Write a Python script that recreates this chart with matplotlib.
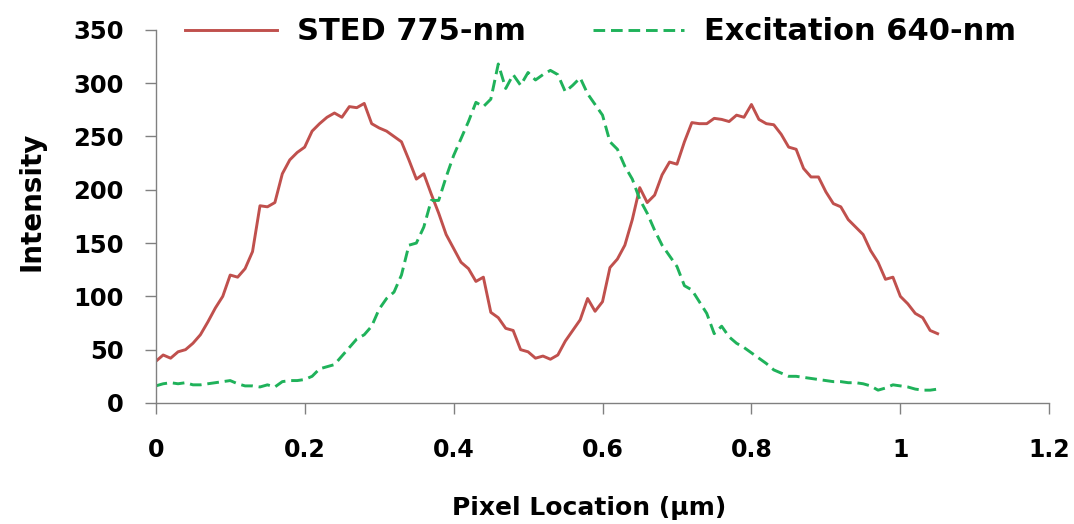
import numpy as np
import matplotlib
matplotlib.use("Agg")
from matplotlib import pyplot as plt

x_um = np.round(np.arange(0, 1.051, 0.01), 2)

sted_775 = [39, 45, 42, 48, 50, 56, 64, 76, 89, 100,
            120, 118, 126, 142, 185, 184, 188, 215, 228, 235,
            240, 255, 262, 268, 272, 268, 278, 277, 281, 262,
            258, 255, 250, 245, 228, 210, 215, 196, 178, 158,
            145, 132, 126, 114, 118, 85, 80, 70, 68, 50,
            48, 42, 44, 41, 45, 58, 68, 78, 98, 86,
            95, 127, 135, 148, 172, 202, 188, 195, 214, 226,
            224, 245, 263, 262, 262, 267, 266, 264, 270, 268,
            280, 266, 262, 261, 252, 240, 238, 220, 212, 212,
            198, 187, 184, 172, 165, 158, 143, 132, 116, 118,
            100, 93, 84, 80, 68, 65]

exc_640 = [16, 18, 19, 18, 19, 17, 17, 18, 19, 20,
           21, 18, 16, 16, 15, 17, 15, 20, 21, 21,
           22, 25, 32, 34, 36, 44, 52, 60, 64, 72,
           88, 98, 104, 120, 148, 150, 165, 190, 190, 212,
           232, 248, 264, 282, 278, 285, 318, 295, 308, 298,
           310, 303, 308, 312, 308, 292, 298, 305, 290, 280,
           270, 245, 238, 222, 210, 191, 178, 162, 148, 138,
           128, 110, 106, 95, 84, 65, 72, 62, 56, 52,
           47, 42, 37, 31, 28, 25, 25, 24, 23, 22,
           21, 20, 20, 19, 19, 18, 16, 12, 14, 17,
           16, 15, 13, 12, 12, 13]

labels = ["STED 775-nm", "Excitation 640-nm"]

plt.rcParams["font.family"] = "DejaVu Sans"
plt.rcParams["font.weight"] = "bold"

fig = plt.figure(figsize=(10.74, 5.24), dpi=100)
ax = fig.add_axes([0.145, 0.231, 0.832, 0.712])

ax.plot(x_um, sted_775, color="#C0504D", linewidth=2.1, label=labels[0])
ax.plot(x_um, exc_640, color="#1FB25A", linewidth=2.1, dashes=(4, 2),
        label=labels[1])

ax.set_xlim(0, 1.2)
ax.set_ylim(0, 350)
ax.set_xticks([0, 0.2, 0.4, 0.6, 0.8, 1.0, 1.2])
ax.set_xticklabels(["0", "0.2", "0.4", "0.6", "0.8", "1", "1.2"])
ax.set_yticks(np.arange(0, 351, 50))

for s in ["top", "right"]:
    ax.spines[s].set_visible(False)
for s in ["left", "bottom"]:
    ax.spines[s].set_color("#808080")
    ax.spines[s].set_linewidth(1.0)

ax.tick_params(axis="both", colors="#808080", length=8, width=1.0,
               labelcolor="black")
ax.tick_params(axis="x", pad=17, labelsize=17)
ax.tick_params(axis="y", pad=15, labelsize=17.5)

ax.set_xlabel("Pixel Location (\u03bcm)", fontsize=18, fontweight="bold",
              va="center")
ax.xaxis.set_label_coords(0.485, -0.282)
ax.set_ylabel("Intensity", fontsize=20, fontweight="bold", va="center")
ax.yaxis.set_label_coords(-0.139, 0.54)

fig.legend(loc="center left", bbox_to_anchor=(185 / 1074, 1 - 32 / 524),
           ncol=2, frameon=False, fontsize=22, handlelength=3.0,
           handletextpad=0.65, columnspacing=2.2, borderpad=0,
           borderaxespad=0)

fig.savefig("out.png", dpi=100)
